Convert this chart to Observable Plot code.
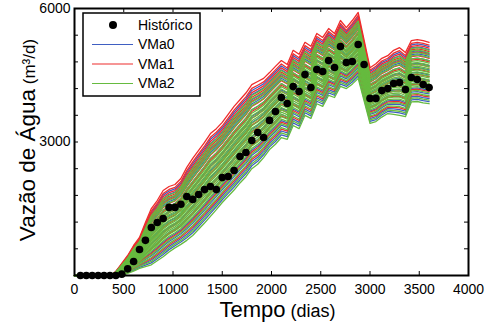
<!DOCTYPE html>
<html><head><meta charset="utf-8">
<script src="https://cdn.jsdelivr.net/npm/d3@7"></script>
<script src="https://cdn.jsdelivr.net/npm/@observablehq/plot@0.6"></script>
<style>body{margin:0;background:#fff} svg{display:block}</style>
</head><body><div id="chart"></div>
<script>
// Histórico (observed) points
const histDays = [60,120,180,240,300,360,420,480,540,600,660,720,780,840,900,960,1020,1080,1140,1200,
  1260,1320,1380,1440,1500,1560,1620,1680,1740,1800,1860,1920,1980,2040,2100,2160,2220,2280,2340,2400,
  2460,2520,2580,2640,2700,2760,2820,2880,2940,3000,3060,3120,3180,3240,3300,3360,3420,3480,3540,3600];
const histValues = [0,0,0,0,0,0,0,30,150,315,585,790,1080,1190,1280,1530,1530,1600,1775,1710,
  1820,1930,2000,1930,2200,2225,2360,2675,2765,3035,3215,3100,3485,3685,4000,3865,4245,4135,4515,4225,
  4630,4585,4830,4675,5145,4785,4810,5190,4740,3980,3980,4155,4200,4315,4335,4180,4450,4405,4290,4225];

// Simulated ensemble: time grid, upper and lower envelopes
const lineDays = [0,60,120,180,240,300,360,420,480,540,600,660,720,780,840,900,960,1020,1080,1140,
  1200,1260,1320,1380,1440,1500,1560,1620,1680,1740,1800,1860,1920,1980,2040,2100,2160,2220,2280,2340,
  2400,2460,2520,2580,2640,2700,2760,2820,2880,3000,3060,3120,3180,3240,3300,3360,3420,3480,3540,3600];
const upperEnvelope = [0,0,0,0,0,0,0,90,270,450,675,855,1190,1505,1685,1910,2000,2045,2180,2430,
  2630,2810,2990,3190,3300,3440,3620,3800,3950,4100,4290,4360,4430,4560,4700,4830,4740,5060,4970,5240,
  5150,5440,5350,5550,5440,5730,5570,5730,5910,4670,4760,4880,4940,5060,5120,5010,5280,5300,5280,5240];
const lowerEnvelope = [0,0,0,0,0,0,0,0,0,50,100,160,200,240,330,420,530,620,700,790,
  900,1040,1180,1330,1480,1640,1780,1920,2080,2220,2400,2500,2650,2830,2950,3100,3060,3370,3300,3600,
  3530,3860,3800,4050,4000,4250,4200,4300,4430,3420,3460,3560,3640,3620,3600,3570,3900,3910,3880,3860];

// relative position of each ensemble member inside the band (0 = lower, 1 = upper)
const fracVMa0 = [0.035,0.085,0.16,0.22,0.3,0.38,0.47,0.55,0.62,0.7,0.77,0.82,0.88,0.93];
const fracVMa1 = [0.11,0.2,0.28,0.36,0.44,0.52,0.6,0.68,0.74,0.8,0.85,0.905,0.955,1.0];
const fracVMa2 = [0,0.06,0.13,0.18,0.24,0.27,0.3,0.33,0.36,0.39,0.42,0.45,0.48,0.51,0.54,0.57,
  0.6,0.63,0.66,0.7,0.75,0.79,0.83,0.87];

const seriesNames = ["VMa0","VMa1","VMa2"];
const seriesColors = ["#3f5fc2","#ee2d2d","#66bb3f"];
const histName = "Histórico";

const xTicks = [0,500,1000,1500,2000,2500,3000,3500,4000];
const yTicks = [0,600,1200,1800,2400,3000,3600,4200,4800,5400,6000];
const yLabels = [3000,6000];

const xTitle = "Tempo", xUnit = " (dias)";
const yTitle = "Vazão de Água", yUnit = " (m³/d)";

// build table
const fracs = [fracVMa0, fracVMa1, fracVMa2];
const rows = [];
seriesNames.forEach((s, si) => {
  fracs[si].forEach((f, k) => {
    lineDays.forEach((t, i) => {
      rows.push({series: s, id: s + "-" + k, t, v: lowerEnvelope[i] + f * (upperEnvelope[i] - lowerEnvelope[i])});
    });
  });
});
const hist = histDays.map((t, i) => ({t, v: histValues[i]}));

const W = 493, H = 327, mL = 74, mR = 25, mT = 8, mB = 52;
const iW = W - mL - mR, iH = H - mT - mB;

const plot = Plot.plot({
  width: W, height: H,
  marginLeft: mL, marginRight: mR, marginTop: mT, marginBottom: mB,
  x: {domain: [0, 4000]},
  y: {domain: [0, 6000]},
  color: {domain: seriesNames, range: seriesColors},
  style: {fontFamily: "'Liberation Sans', Arial, sans-serif", fontSize: "14px", color: "#000", background: "#fff", overflow: "visible"},
  marks: [
    Plot.line(rows, {x: "t", y: "v", z: "id", stroke: "series", strokeWidth: 1.3}),
    Plot.dot(hist, {x: "t", y: "v", r: 3.8, fill: "#000", stroke: "none"}),
    Plot.tickX(xTicks, {x: d => d, insetTop: iH - 4, stroke: "#000", strokeWidth: 1}),
    Plot.tickX(xTicks, {x: d => d, insetBottom: iH - 4, stroke: "#000", strokeWidth: 1}),
    Plot.tickY(yTicks, {y: d => d, insetRight: iW - 4, stroke: "#000", strokeWidth: 1}),
    Plot.tickY(yTicks, {y: d => d, insetLeft: iW - 4, stroke: "#000", strokeWidth: 1}),
    Plot.frame({stroke: "#000", strokeWidth: 2}),
    Plot.axisX(xTicks, {tickSize: 0, tickPadding: 9, tickFormat: d => String(d), label: null, fontSize: 14}),
    Plot.axisY(yLabels, {tickSize: 0, tickPadding: 4, tickFormat: d => String(d), label: null, fontSize: 14})
  ]
});
document.getElementById("chart").appendChild(plot);

const svg = d3.select(plot);
const ff = "'Liberation Sans', Arial, sans-serif";
// axis titles
const xt = svg.append("text").attr("x", 277.5).attr("y", 317).attr("text-anchor", "middle")
  .attr("font-family", ff).attr("fill", "#000");
xt.append("tspan").attr("font-size", 22).text(xTitle);
xt.append("tspan").attr("font-size", 18).text(xUnit);
const yt = svg.append("text").attr("transform", "translate(34.5,140) rotate(-90)").attr("text-anchor", "middle")
  .attr("font-family", ff).attr("fill", "#000");
yt.append("tspan").attr("font-size", 22.5).text(yTitle);
yt.append("tspan").attr("font-size", 17).text(yUnit);

// legend
const lg = svg.append("g").attr("font-family", ff).attr("font-size", 14).attr("fill", "#000")
  .attr("text-anchor", "start");
lg.append("rect").attr("x", 83).attr("y", 13).attr("width", 117).attr("height", 83)
  .attr("fill", "#fff").attr("stroke", "#000").attr("stroke-width", 1.5);
lg.append("circle").attr("cx", 113).attr("cy", 25).attr("r", 4).attr("fill", "#000");
lg.append("text").attr("x", 138).attr("y", 25).attr("dy", "0.35em").attr("text-anchor", "start").text(histName);
seriesNames.forEach((s, i) => {
  const y = 44.5 + i * 19.5;
  lg.append("line").attr("x1", 92).attr("x2", 133).attr("y1", y).attr("y2", y)
    .attr("stroke", seriesColors[i]).attr("stroke-width", 1.2);
  lg.append("text").attr("x", 138).attr("y", y).attr("dy", "0.35em").attr("text-anchor", "start").text(s);
});
</script>
</body></html>
